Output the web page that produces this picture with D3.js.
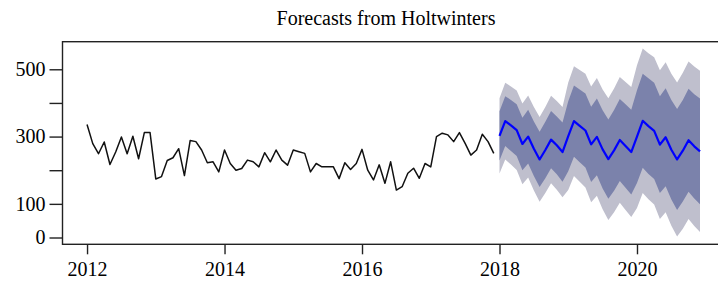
<!DOCTYPE html>
<html>
<head>
<meta charset="utf-8">
<script src="https://cdn.jsdelivr.net/npm/d3@7"></script>
<style>
  html, body { margin: 0; padding: 0; background: #fff; }
  svg { display: block; }
  text { font-family: "Liberation Serif", "DejaVu Serif", serif; fill: #000; }
</style>
</head>
<body>
<svg id="chart" width="718" height="286"></svg>
<script>
// ---- data ----
const title = "Forecasts from Holtwinters";
const startYear = 2012;          // monthly series, frequency 12
const observed = [
  336,279,249,284,217,254,299,249,301,234,312,312,
  174,181,229,237,264,184,288,285,260,222,225,195,
  260,220,200,205,230,225,210,252,225,260,230,215,
  260,255,250,195,220,210,210,210,175,222,202,220,
  262,200,171,216,161,225,141,151,191,206,176,220,
  210,300,310,305,285,312,280,245,260,307,285,250
];
const forecastStart = 2018;
const forecastMean = [
  302,346,333,319,278,300,264,232,260,291,274,254,
  301,346,332,318,277,299,262,233,259,290,272,254,
  300,347,331,317,276,298,261,232,258,289,271,256
];
const upper95 = [
  414,460,449,437,398,422,388,358,388,421,406,388,
  461,509,498,487,449,474,440,414,443,477,462,447,
  512,562,548,536,497,521,487,461,490,523,508,496
];
const lower95 = [
  190,232,217,201,158,178,140,106,132,161,142,120,
  141,183,166,149,105,124,84,52,75,103,82,61,
  88,132,114,98,55,75,35,3,26,55,34,16
];
const upper80 = [
  375,420,409,396,356,380,345,314,344,376,360,342,
  405,452,440,428,389,413,378,351,379,412,396,380,
  438,487,473,460,420,444,409,382,409,442,426,413
];
const lower80 = [
  229,272,257,242,200,220,183,150,176,206,188,166,
  197,240,224,208,165,185,146,115,139,168,148,128,
  162,207,189,174,132,152,113,82,107,136,116,99
];
const xTicks = [2012, 2014, 2016, 2018, 2020];
const yTicks = [0, 100, 200, 300, 400, 500];
const yTickLabels = ["0", "100", "", "300", "", "500"];

// ---- layout ----
const svg = d3.select("#chart");
const x = d3.scaleLinear().domain([2011.643, 2021.273]).range([62.5, 724.5]);
const y = d3.scaleLinear().domain([-20.2, 582]).range([244.3, 41.7]);

const obs = observed.map((v, i) => ({ t: startYear + i / 12, v }));
const fc = forecastMean.map((v, i) => ({
  t: forecastStart + i / 12, v,
  u95: upper95[i], l95: lower95[i], u80: upper80[i], l80: lower80[i]
}));

svg.append("defs").append("clipPath").attr("id", "clip")
  .append("rect").attr("x", 62.5).attr("y", 41.7).attr("width", 700).attr("height", 202.6);

const g = svg.append("g").attr("clip-path", "url(#clip)");

const area95 = d3.area().x(d => x(d.t)).y0(d => y(d.l95)).y1(d => y(d.u95));
const area80 = d3.area().x(d => x(d.t)).y0(d => y(d.l80)).y1(d => y(d.u80));
g.append("path").datum(fc).attr("d", area95).attr("fill", "#bfbfcd");
g.append("path").datum(fc).attr("d", area80).attr("fill", "#7b82ab");

const line = d3.line().x(d => x(d.t)).y(d => y(d.v));
g.append("path").datum(obs).attr("d", line)
  .attr("fill", "none").attr("stroke", "#111").attr("stroke-width", 1.5)
  .attr("stroke-linejoin", "round");
g.append("path").datum(fc).attr("d", line)
  .attr("fill", "none").attr("stroke", "#0000ff").attr("stroke-width", 2.2)
  .attr("stroke-linejoin", "round");

// box
svg.append("rect").attr("x", 62.5).attr("y", 41.7).attr("width", 700).attr("height", 202.6)
  .attr("fill", "none").attr("stroke", "#222").attr("stroke-width", 1.4);

// axes
const xAxis = d3.axisBottom(x).tickValues(xTicks).tickFormat(d3.format("d"))
  .tickSizeInner(10).tickSizeOuter(0).tickPadding(8);
const xg = svg.append("g").attr("transform", "translate(0,244.3)").call(xAxis);
xg.select(".domain").remove();
xg.selectAll("line").attr("stroke", "#222").attr("stroke-width", 1.4);
xg.selectAll("text").attr("font-size", 20).attr("font-family", "Liberation Serif").attr("fill", "#000");

const yAxis = d3.axisLeft(y).tickValues(yTicks).tickFormat((d, i) => yTickLabels[i])
  .tickSizeInner(13).tickSizeOuter(0).tickPadding(4);
const yg = svg.append("g").attr("transform", "translate(62.5,0)").call(yAxis);
yg.select(".domain").remove();
yg.selectAll("line").attr("stroke", "#222").attr("stroke-width", 1.4);
yg.selectAll("text").attr("font-size", 20).attr("font-family", "Liberation Serif").attr("fill", "#000");

svg.append("text").attr("x", 386).attr("y", 25).attr("text-anchor", "middle")
  .attr("font-size", 20).text(title);
</script>
</body>
</html>
